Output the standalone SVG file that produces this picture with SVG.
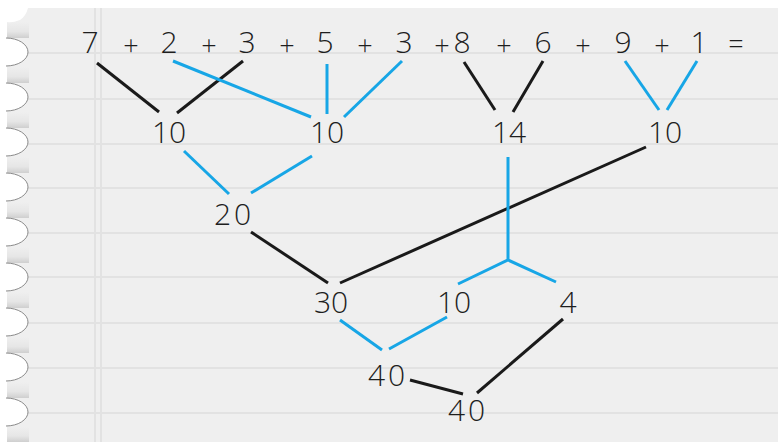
<svg xmlns="http://www.w3.org/2000/svg" width="778" height="442" viewBox="0 0 778 442">
<style>
.t{font-family:"Open Sans","Liberation Sans",sans-serif;font-weight:300;font-size:30px;fill:#1e1e1e;text-anchor:middle}
.op{font-size:27px}
.k{stroke:#1a1a1a;stroke-width:3;fill:none;stroke-linecap:butt}
.b{stroke:#17a6e6;stroke-width:3;fill:none;stroke-linecap:butt}
.rule{stroke:#e2e2e2;stroke-width:2}
.hole{fill:#ffffff;stroke:#8a8a8a;stroke-width:1}
</style>
<defs>
<linearGradient id="tab" x1="0" y1="0" x2="0" y2="1">
<stop offset="0" stop-color="#efefef"/>
<stop offset="0.6" stop-color="#e6e6e6"/>
<stop offset="1" stop-color="#cfcfcf"/>
</linearGradient>
</defs>
<rect width="778" height="442" fill="#ffffff"/>
<g id="paper">
<rect x="7" y="8" width="771" height="434" fill="#efefef"/>
<g class="rule">
<line x1="7" y1="53" x2="778" y2="53"/>
<line x1="7" y1="99" x2="778" y2="99"/>
<line x1="7" y1="144" x2="778" y2="144"/>
<line x1="7" y1="188" x2="778" y2="188"/>
<line x1="7" y1="233" x2="778" y2="233"/>
<line x1="7" y1="277" x2="778" y2="277"/>
<line x1="7" y1="323" x2="778" y2="323"/>
<line x1="7" y1="368" x2="778" y2="368"/>
<line x1="7" y1="413" x2="778" y2="413"/>
<line x1="95" y1="8" x2="95" y2="442"/>
<line x1="101" y1="8" x2="101" y2="442"/>
</g>
<g fill="url(#tab)">
<rect x="7" y="22" width="22" height="16"/>
<rect x="7" y="67" width="22" height="16"/>
<rect x="7" y="112" width="22" height="16"/>
<rect x="7" y="157" width="22" height="16"/>
<rect x="7" y="202" width="22" height="16"/>
<rect x="7" y="247" width="22" height="16"/>
<rect x="7" y="292" width="22" height="16"/>
<rect x="7" y="337" width="22" height="16"/>
<rect x="7" y="382" width="22" height="16"/>
<rect x="7" y="427" width="22" height="15"/>
</g>
<rect x="0" y="8" width="7" height="434" fill="#ffffff"/>
<path d="M7 8 H28 Q26 16 20 20 Q12 23 7 22 Z" fill="#ffffff"/>
<g>
<ellipse class="hole" cx="6" cy="52" rx="22" ry="14"/>
<ellipse class="hole" cx="6" cy="97" rx="22" ry="14"/>
<ellipse class="hole" cx="6" cy="142" rx="22" ry="14"/>
<ellipse class="hole" cx="6" cy="187" rx="22" ry="14"/>
<ellipse class="hole" cx="6" cy="232" rx="22" ry="14"/>
<ellipse class="hole" cx="6" cy="277" rx="22" ry="14"/>
<ellipse class="hole" cx="6" cy="322" rx="22" ry="14"/>
<ellipse class="hole" cx="6" cy="367" rx="22" ry="14"/>
<ellipse class="hole" cx="6" cy="412" rx="22" ry="14"/>
</g>
<rect x="0" y="8" width="6" height="434" fill="#ffffff"/>
</g>
<g id="equation">
<text class="t" x="90" y="53">7</text>
<text class="t op" x="131" y="55">+</text>
<text class="t" x="169" y="53">2</text>
<text class="t op" x="209" y="55">+</text>
<text class="t" x="247" y="53">3</text>
<text class="t op" x="287" y="55">+</text>
<text class="t" x="325" y="53">5</text>
<text class="t op" x="365" y="55">+</text>
<text class="t" x="404" y="53">3</text>
<text class="t op" x="442" y="55">+</text>
<text class="t" x="462" y="53">8</text>
<text class="t op" x="504" y="55">+</text>
<text class="t" x="543" y="53">6</text>
<text class="t op" x="583" y="55">+</text>
<text class="t" x="623" y="53">9</text>
<text class="t op" x="662" y="55">+</text>
<text class="t" x="699" y="53">1</text>
<text class="t op" x="736" y="54">=</text>
</g>
<g id="connectors">
<line class="k" x1="97" y1="63" x2="159" y2="112"/>
<line class="k" x1="243" y1="61" x2="177" y2="113"/>
<line class="b" x1="173" y1="61" x2="311" y2="117"/>
<line class="b" x1="327" y1="64" x2="327" y2="114"/>
<line class="b" x1="402" y1="61" x2="344" y2="117"/>
<line class="k" x1="464" y1="62" x2="495" y2="110"/>
<line class="k" x1="543" y1="61" x2="513" y2="112"/>
<line class="b" x1="625" y1="61" x2="659" y2="110"/>
<line class="b" x1="697" y1="61" x2="667" y2="110"/>
<line class="b" x1="184" y1="151" x2="229" y2="194"/>
<line class="b" x1="312" y1="156" x2="251" y2="193"/>
<line class="k" x1="251" y1="232" x2="328" y2="283"/>
<line class="k" x1="646" y1="147" x2="340" y2="283"/>
<path class="b" d="M508 157 V260 M458 284 L508 260 L556 282"/>
<line class="b" x1="340" y1="320" x2="382" y2="350"/>
<line class="b" x1="447" y1="317" x2="389" y2="349"/>
<line class="k" x1="410" y1="380" x2="463" y2="394"/>
<line class="k" x1="563" y1="319" x2="477" y2="393"/>
</g>
<g id="n_10a"><text class="t" x="169" y="143">10</text></g>
<g id="n_10b"><text class="t" x="327" y="143">10</text></g>
<g id="n_14"><text class="t" x="509" y="143">14</text></g>
<g id="n_10c"><text class="t" x="665" y="143">10</text></g>
<g id="n_20"><text class="t" x="234" y="225" letter-spacing="3">20</text></g>
<g id="n_30"><text class="t" x="331" y="313">30</text></g>
<g id="n_10d"><text class="t" x="454" y="313">10</text></g>
<g id="n_4"><text class="t" x="568" y="313">4</text></g>
<g id="n_40a"><text class="t" x="388" y="386" letter-spacing="3">40</text></g>
<g id="n_40b"><text class="t" x="468" y="421" letter-spacing="3">40</text></g>
</svg>
